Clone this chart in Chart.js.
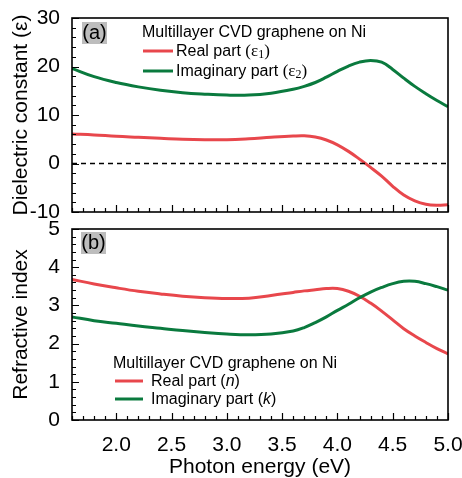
<!DOCTYPE html>
<html>
<head>
<meta charset="utf-8">
<script src="https://cdn.jsdelivr.net/npm/chart.js@4.4.0/dist/chart.umd.min.js"></script>
<style>
  html, body { margin: 0; padding: 0; background: #fff; }
  #wrap { position: relative; width: 462px; height: 478px; }
  canvas { position: absolute; left: 0; top: 0; }
</style>
</head>
<body>
<div id="wrap">
  <canvas id="topChart" width="462" height="478"></canvas>
  <canvas id="bottomChart" width="462" height="478"></canvas>
</div>
<script>
// Photon energy (eV)
const energy = [1.6, 1.8, 2.0, 2.2, 2.4, 2.6, 2.8, 3.0, 3.2, 3.4, 3.6, 3.7, 3.8, 3.9, 4.0, 4.1, 4.2, 4.3, 4.4, 4.5, 4.6, 4.7, 4.8, 4.9, 5.0];
// (a) dielectric constant
const eps1 = [6.1, 5.9, 5.6, 5.4, 5.2, 5.0, 4.9, 4.9, 5.1, 5.4, 5.65, 5.7, 5.45, 4.85, 3.85, 2.5, 0.9, -0.8, -2.6, -4.7, -6.5, -7.7, -8.4, -8.6, -8.5];
const eps2 = [19.6, 17.9, 16.7, 15.8, 15.1, 14.6, 14.3, 14.1, 14.1, 14.5, 15.3, 15.9, 16.7, 17.8, 19.0, 20.1, 20.9, 21.25, 20.9, 19.4, 17.6, 15.9, 14.4, 13.0, 11.7];
// (b) refractive index
const nReal = [3.68, 3.56, 3.46, 3.37, 3.30, 3.24, 3.20, 3.18, 3.19, 3.26, 3.34, 3.38, 3.41, 3.44, 3.44, 3.37, 3.24, 3.06, 2.85, 2.62, 2.39, 2.20, 2.03, 1.87, 1.73];
const kImag = [2.70, 2.60, 2.53, 2.46, 2.40, 2.34, 2.29, 2.25, 2.23, 2.25, 2.33, 2.42, 2.55, 2.70, 2.87, 3.03, 3.20, 3.35, 3.47, 3.57, 3.63, 3.63, 3.57, 3.49, 3.40];

// axis ticks
const xTicks = [2.0, 2.5, 3.0, 3.5, 4.0, 4.5, 5.0];
const yTicksA = [-10, 0, 10, 20, 30];
const yTicksB = [0, 1, 2, 3, 4, 5];

const RED = "#e8474c";
const GREEN = "#0a7a3e";
const SANS = "'Liberation Sans', Arial, sans-serif";
const SERIF = "'Liberation Serif', 'Times New Roman', serif";

Chart.defaults.font.family = SANS;
Chart.defaults.color = "#000";

function pts(ys) {
  return energy.map((x, i) => ({ x: x, y: ys[i] }));
}

function lineSet(label, ys, color) {
  return {
    label: label,
    data: pts(ys),
    borderColor: color,
    borderWidth: 3,
    pointRadius: 0,
    tension: 0.4,
    fill: false,
  };
}

// draw text made of several runs (different fonts)
function drawRuns(ctx, x, y, runs) {
  ctx.textBaseline = "middle";
  ctx.textAlign = "left";
  runs.forEach((r) => {
    ctx.font = r.font;
    ctx.fillText(r.text, x, y + (r.dy || 0));
    x += ctx.measureText(r.text).width;
  });
}

// frame, inward ticks, panel tag and legend
function framePlugin(opts) {
  return {
    id: "frame",
    afterDraw(chart) {
      const { ctx, chartArea: a } = chart;
      const xs = chart.scales.x;
      const ys = chart.scales.y;
      ctx.save();
      ctx.strokeStyle = "#000";
      ctx.lineWidth = 1.2;
      ctx.beginPath();
      let n = Math.round((xs.max - xs.min) / 0.1);
      for (let i = 0; i <= n; i++) {
        const v = xs.min + i * 0.1;
        const major = Math.abs(v / 0.5 - Math.round(v / 0.5)) < 1e-6;
        const px = Math.round(xs.getPixelForValue(v)) + 0.5;
        ctx.moveTo(px, a.bottom);
        ctx.lineTo(px, a.bottom - (major ? 7 : 4));
      }
      n = Math.round((ys.max - ys.min) / opts.yMinor);
      for (let i = 0; i <= n; i++) {
        const v = ys.min + i * opts.yMinor;
        const major = Math.abs(v / opts.yMajor - Math.round(v / opts.yMajor)) < 1e-6;
        const py = Math.round(ys.getPixelForValue(v)) + 0.5;
        ctx.moveTo(a.left, py);
        ctx.lineTo(a.left + (major ? 7 : 4), py);
      }
      ctx.stroke();

      ctx.lineWidth = 1.6;
      ctx.strokeRect(a.left, a.top, a.right - a.left, a.bottom - a.top);

      // panel tag
      const t = opts.tag;
      ctx.fillStyle = "#bdbdbd";
      ctx.fillRect(t.x, t.y, 25, 22);
      ctx.fillStyle = "#000";
      ctx.font = "20px " + SANS;
      ctx.textAlign = "center";
      ctx.textBaseline = "middle";
      ctx.fillText(t.text, t.x + 12.5, t.y + 11.5);

      // legend
      const L = opts.legend;
      ctx.fillStyle = "#000";
      drawRuns(ctx, L.x, L.y[0], [{ text: "Multillayer CVD graphene on Ni", font: "16px " + SANS }]);
      L.items.forEach((it, i) => {
        const yy = L.y[i + 1];
        ctx.strokeStyle = it.color;
        ctx.lineWidth = 3;
        ctx.beginPath();
        ctx.moveTo(L.lineX[0], yy - 1);
        ctx.lineTo(L.lineX[1], yy - 1);
        ctx.stroke();
        drawRuns(ctx, L.textX, yy, it.runs);
      });
      ctx.restore();
    },
  };
}

function axisX(showLabels, height) {
  return {
    type: "linear",
    min: 1.6,
    max: 5.0,
    grid: { display: false },
    border: { display: false },
    afterBuildTicks: (s) => { s.ticks = xTicks.map((v) => ({ value: v })); },
    afterFit: (s) => { s.height = height; s.paddingLeft = 0; s.paddingRight = 0; },
    ticks: {
      display: showLabels,
      padding: 5,
      font: { size: 21 },
      callback: (v) => v.toFixed(1),
    },
    title: {
      display: showLabels,
      text: "Photon energy (eV)",
      font: { size: 21, lineHeight: 1 },
      padding: { top: 0, bottom: 0 },
    },
  };
}

function axisY(min, max, ticks, title) {
  return {
    type: "linear",
    min: min,
    max: max,
    grid: { display: false },
    border: { display: false },
    afterBuildTicks: (s) => { s.ticks = ticks.map((v) => ({ value: v })); },
    afterFit: (s) => { s.width = 72; s.paddingTop = 0; s.paddingBottom = 0; },
    ticks: { padding: 4, font: { size: 21 }, callback: (v) => String(v) },
    title: {
      display: true,
      text: title,
      font: { size: 21, lineHeight: 1 },
      padding: { top: 11, bottom: 0 },
    },
  };
}

const baseOptions = {
  responsive: false,
  animation: false,
  plugins: { legend: { display: false }, tooltip: { enabled: false } },
};

// Top panel (a)
new Chart(document.getElementById("topChart"), {
  type: "line",
  data: {
    datasets: [
      {
        label: "zero",
        data: [{ x: energy[0], y: 0 }, { x: energy[energy.length - 1], y: 0 }],
        borderColor: "#000",
        borderWidth: 1.4,
        borderDash: [5, 4],
        pointRadius: 0,
      },
      lineSet("Imaginary part", eps2, GREEN),
      lineSet("Real part", eps1, RED),
    ],
  },
  options: {
    ...baseOptions,
    layout: { padding: { top: 18, right: 14, left: 0, bottom: 0 } },
    scales: {
      x: axisX(false, 266),
      y: axisY(-10, 30, yTicksA, "Dielectric constant (ε)"),
    },
  },
  plugins: [
    framePlugin({
      yMajor: 10,
      yMinor: 2,
      tag: { x: 82, y: 22, text: "(a)" },
      legend: {
        x: 142,
        y: [33, 52, 72],
        lineX: [143, 173],
        textX: 176,
        items: [
          { color: RED, runs: [
            { text: "Real part ", font: "16px " + SANS },
            { text: "(ε", font: "17px " + SERIF },
            { text: "1", font: "12px " + SERIF, dy: 3 },
            { text: ")", font: "17px " + SERIF },
          ] },
          { color: GREEN, runs: [
            { text: "Imaginary part ", font: "16px " + SANS },
            { text: "(ε", font: "17px " + SERIF },
            { text: "2", font: "12px " + SERIF, dy: 3 },
            { text: ")", font: "17px " + SERIF },
          ] },
        ],
      },
    }),
  ],
});

// Bottom panel (b)
new Chart(document.getElementById("bottomChart"), {
  type: "line",
  data: {
    datasets: [
      lineSet("Imaginary part (k)", kImag, GREEN),
      lineSet("Real part (n)", nReal, RED),
    ],
  },
  options: {
    ...baseOptions,
    layout: { padding: { top: 229, right: 14, left: 0, bottom: 0 } },
    scales: {
      x: axisX(true, 58),
      y: axisY(0, 5, yTicksB, "Refractive index"),
    },
  },
  plugins: [
    framePlugin({
      yMajor: 1,
      yMinor: 0.2,
      tag: { x: 81, y: 232, text: "(b)" },
      legend: {
        x: 113,
        y: [364, 382, 400],
        lineX: [115, 143],
        textX: 151,
        items: [
          { color: RED, runs: [
            { text: "Real part (", font: "16px " + SANS },
            { text: "n", font: "italic 16px " + SANS },
            { text: ")", font: "16px " + SANS },
          ] },
          { color: GREEN, runs: [
            { text: "Imaginary part (", font: "16px " + SANS },
            { text: "k", font: "italic 16px " + SANS },
            { text: ")", font: "16px " + SANS },
          ] },
        ],
      },
    }),
  ],
});
</script>
</body>
</html>
